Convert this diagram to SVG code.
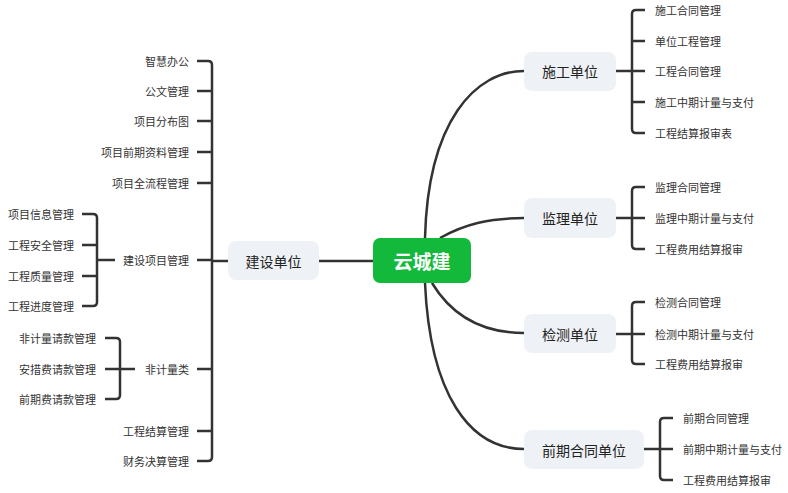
<svg xmlns="http://www.w3.org/2000/svg" width="788" height="493" viewBox="0 0 788 493">
<style>
.ln{fill:none;stroke:#333;stroke-width:2.5;stroke-linecap:butt;stroke-linejoin:round}
.box{fill:#eef1f5}
.nt{font-family:"Noto Sans CJK SC","Liberation Sans",sans-serif;font-size:14px;fill:#222;text-anchor:middle;dominant-baseline:central}
.lf{font-family:"Noto Sans CJK SC","Liberation Sans",sans-serif;font-size:11px;fill:#333;dominant-baseline:central}
.r{text-anchor:end}
</style>
<rect width="788" height="493" fill="#fff"/>
<g id="connectors">
<path class="ln" d="M319,261 H373"/>
<path class="ln" d="M425,238 C428,120 476,71 524,71"/>
<path class="ln" d="M440,238 C465,224 490,218 524,218"/>
<path class="ln" d="M432,283 C452,316 482,333 524,333"/>
<path class="ln" d="M425,283 C430,395 470,449 524,449"/>
<!-- left main bus -->
<path class="ln" d="M228,261 H212"/>
<path class="ln" d="M197,61 H208 Q212,61 212,65 V457 Q212,461 208,461 H197"/>
<path class="ln" d="M197,91 H212 M197,121 H212 M197,152 H212 M197,183 H212 M197,260 H212 M197,369 H212 M197,431 H212"/>
<!-- 建设项目管理 bus -->
<path class="ln" d="M115,260 H97"/>
<path class="ln" d="M82,214 H93 Q97,214 97,218 V302 Q97,306 93,306 H82"/>
<path class="ln" d="M82,245 H97 M82,276 H97"/>
<!-- 非计量类 bus -->
<path class="ln" d="M135,369 H105"/>
<path class="ln" d="M105,338 H116 Q120,338 120,342 V395 Q120,399 116,399 H105"/>
<!-- 施工单位 bus -->
<path class="ln" d="M616,71 H632"/>
<path class="ln" d="M645,10 H636 Q632,10 632,14 V129 Q632,133 636,133 H645"/>
<path class="ln" d="M632,41 H645 M632,71 H645 M632,102 H645"/>
<!-- 监理单位 bus -->
<path class="ln" d="M616,218 H645"/>
<path class="ln" d="M645,187 H636 Q632,187 632,191 V245 Q632,249 636,249 H645"/>
<!-- 检测单位 bus -->
<path class="ln" d="M616,334 H645"/>
<path class="ln" d="M645,302 H636 Q632,302 632,306 V360 Q632,364 636,364 H645"/>
<!-- 前期合同单位 bus -->
<path class="ln" d="M644,449 H673"/>
<path class="ln" d="M673,418 H664 Q660,418 660,422 V476 Q660,480 664,480 H673"/>
</g>
<g id="root">
<rect x="373" y="238" width="98" height="45" rx="7" fill="#13b93b"/>
<text x="422" y="260.5" font-family="'Noto Sans CJK SC','Liberation Sans',sans-serif" font-size="19" font-weight="bold" fill="#fff" text-anchor="middle" dominant-baseline="central">云城建</text>
</g>
<g id="node-jianshe"><rect class="box" x="228" y="241" width="91" height="39" rx="8"/><text class="nt" x="273.5" y="260.5">建设单位</text></g>
<g id="node-shigong"><rect class="box" x="524" y="52" width="92" height="39" rx="8"/><text class="nt" x="570" y="71">施工单位</text></g>
<g id="node-jianli"><rect class="box" x="524" y="198" width="92" height="40" rx="8"/><text class="nt" x="570" y="218">监理单位</text></g>
<g id="node-jiance"><rect class="box" x="524" y="314" width="92" height="39" rx="8"/><text class="nt" x="570" y="333.5">检测单位</text></g>
<g id="node-qianqi"><rect class="box" x="524" y="430" width="120" height="39" rx="8"/><text class="nt" x="584" y="449.5">前期合同单位</text></g>
<g id="left-leaves">
<text class="lf r" x="189" y="61">智慧办公</text>
<text class="lf r" x="189" y="91">公文管理</text>
<text class="lf r" x="189" y="121">项目分布图</text>
<text class="lf r" x="189" y="152">项目前期资料管理</text>
<text class="lf r" x="189" y="183">项目全流程管理</text>
<text class="lf r" x="189" y="260">建设项目管理</text>
<text class="lf r" x="189" y="369">非计量类</text>
<text class="lf r" x="189" y="431">工程结算管理</text>
<text class="lf r" x="189" y="461">财务决算管理</text>
<text class="lf r" x="74" y="214">项目信息管理</text>
<text class="lf r" x="74" y="245">工程安全管理</text>
<text class="lf r" x="74" y="276">工程质量管理</text>
<text class="lf r" x="74" y="306">工程进度管理</text>
<text class="lf r" x="96" y="338">非计量请款管理</text>
<text class="lf r" x="96" y="369">安措费请款管理</text>
<text class="lf r" x="96" y="399">前期费请款管理</text>
</g>
<g id="right-leaves">
<text class="lf" x="655" y="10">施工合同管理</text>
<text class="lf" x="655" y="41">单位工程管理</text>
<text class="lf" x="655" y="71">工程合同管理</text>
<text class="lf" x="655" y="102">施工中期计量与支付</text>
<text class="lf" x="655" y="133">工程结算报审表</text>
<text class="lf" x="655" y="187">监理合同管理</text>
<text class="lf" x="655" y="218">监理中期计量与支付</text>
<text class="lf" x="655" y="249">工程费用结算报审</text>
<text class="lf" x="655" y="302">检测合同管理</text>
<text class="lf" x="655" y="334">检测中期计量与支付</text>
<text class="lf" x="655" y="364">工程费用结算报审</text>
<text class="lf" x="683" y="418">前期合同管理</text>
<text class="lf" x="683" y="449">前期中期计量与支付</text>
<text class="lf" x="683" y="480">工程费用结算报审</text>
</g>
</svg>
